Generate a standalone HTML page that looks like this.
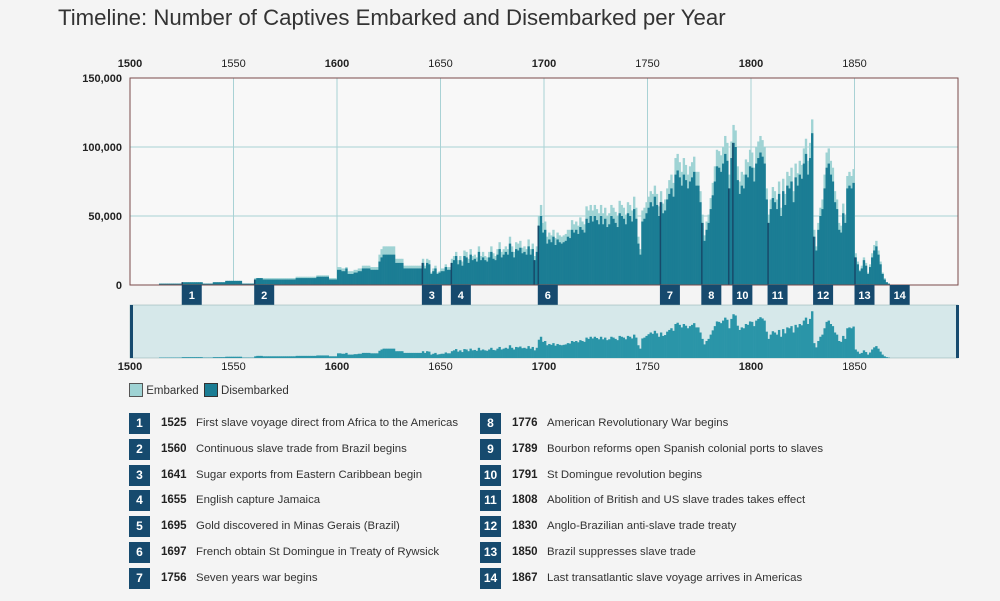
<!DOCTYPE html>
<html><head><meta charset="utf-8">
<style>
body{margin:0;background:#f4f4f4;font-family:"Liberation Sans",sans-serif;width:1000px;height:601px;overflow:hidden;position:relative}
.t{position:absolute;white-space:nowrap}
.box{position:absolute;width:21px;height:21px;background:#164a6e;color:#fff;font-size:12px;font-weight:bold;text-align:center;line-height:21px}
.yr{position:absolute;font-size:11.5px;font-weight:bold;color:#222;line-height:21px}
.ds{position:absolute;font-size:11.4px;color:#333;line-height:21px}
</style></head><body>
<div class="t" style="left:58px;top:5px;font-size:22.2px;color:#333">Timeline: Number of Captives Embarked and Disembarked per Year</div>
<svg id="chart" width="1000" height="380" style="position:absolute;left:0;top:0" font-family="Liberation Sans, sans-serif"></svg>
<div class="t" style="left:129px;top:383px;font-size:11.5px;color:#333">
<span style="display:inline-block;width:12px;height:12px;background:#9fd3d4;border:1px solid #555;vertical-align:-3px"></span> Embarked
<span style="display:inline-block;width:12px;height:12px;background:#1b7d94;border:1px solid #333;vertical-align:-3px;margin-left:2px"></span> Disembarked</div>
<div id="events"></div>
<script>
const years0 = 1514;
const disembarked = [1,1,1,1,1,1,
1,1,1,1,1,2,2,2,2,2, 2,2,2,2,2,1,1,1,1,1, 2,2,2,2,2,2,3,3,3,3, 3,3,3,3,1,1,1,1,1,1,
4,5,5,5,4,4,4,4,4,4, 4,4,4,4,4,4,4,4,4,4, 5,5,5,5,5,5,5,5,5,5, 6,6,6,6,6,6,4,4,4,4,
11,11,10,10,12,8,8,8,9,9, 10,10,12,12,12,12,11,11,11,11, 17,20,22,22,22,22,22,22,16,16, 16,16,12,12,12,12,12,12,12,12,
12,16,12,16,15,8,10,12,8,9, 10,10,13,11,11,16,18,21,15,18, 14,21,20,16,22,18,19,17,24,18, 20,18,17,20,24,19,18,22,26,20,
22,24,22,30,24,20,26,25,27,23, 24,22,28,22,26,18,24,43,50,38, 40,30,33,31,35,29,33,31,30,31, 32,35,34,40,38,40,37,42,40,38,
48,45,50,46,50,47,44,50,44,48, 42,44,50,48,45,42,52,50,48,44, 52,50,46,55,48,30,22,46,48,52, 56,60,57,64,58,50,60,52,54,62,
66,70,64,80,83,78,72,80,76,70, 75,78,82,72,72,60,45,32,40,45, 55,65,75,86,85,82,88,95,90,70, 92,103,100,76,66,72,70,80,78,86,
85,75,88,92,96,93,88,62,45,55, 63,60,55,66,50,68,58,72,70,75, 60,78,72,80,77,88,95,80,92,110, 35,25,40,50,55,70,85,88,80,75,
60,55,40,38,52,45,70,72,70,74, 20,15,10,12,18,14,8,13,20,25, 28,22,15,8,4,2,1];
const embarked = [1,1,1,1,1,1,
1,1,1,1,1,2,2,2,2,2, 2,2,2,2,2,1,1,1,1,1, 2,2,2,2,2,2,3,3,3,3, 3,3,3,3,1,1,1,1,1,1,
5,5,5,5,5,5,5,5,5,5, 5,5,5,5,5,5,5,5,5,5, 6,6,6,6,6,6,6,6,6,6, 7,7,7,7,7,7,5,5,5,5,
13,13,12,12,13,10,10,10,11,11, 12,12,14,14,14,14,13,13,13,13, 22,26,28,28,28,28,28,28,19,19, 19,19,14,14,14,14,14,14,14,14,
14,19,14,19,18,9,12,14,9,10, 12,12,15,13,13,19,21,24,18,21, 17,25,24,19,26,21,22,20,28,21, 24,21,20,24,28,23,21,26,31,24,
26,28,26,35,28,24,31,30,32,27, 28,26,33,26,30,21,28,50,58,45, 46,35,38,36,40,34,38,36,35,36, 37,40,40,47,44,46,43,49,46,44,
57,54,58,54,58,55,52,58,52,56, 50,52,58,56,53,50,61,58,56,51, 60,58,54,64,56,35,26,54,56,60, 64,68,66,72,66,57,68,59,62,70,
76,80,74,92,95,89,82,92,87,80, 86,89,93,82,82,68,51,36,46,51, 63,74,86,98,97,94,100,108,103,80, 104,116,112,86,75,82,80,91,89,98,
96,85,100,104,108,105,100,70,51,62, 71,68,62,75,56,77,66,82,79,85, 68,88,81,90,87,99,106,90,103,120, 40,28,45,56,62,80,96,99,90,85,
68,62,45,43,59,51,79,82,79,84, 23,17,11,14,20,16,9,15,23,29, 32,25,17,9,5,2,1];
const xTicks = [1500,1550,1600,1650,1700,1750,1800,1850];
const yTicks = [0,50,100,150];
const yTickLabels = ["0","50,000","100,000","150,000"];
const eventNums = [1,2,3,4,5,6,7,8,9,10,11,12,13,14];
const eventYears = [1525,1560,1641,1655,1695,1697,1756,1776,1789,1791,1808,1830,1850,1867];
const eventText = ["First slave voyage direct from Africa to the Americas","Continuous slave trade from Brazil begins","Sugar exports from Eastern Caribbean begin","English capture Jamaica","Gold discovered in Minas Gerais (Brazil)","French obtain St Domingue in Treaty of Rywsick","Seven years war begins","American Revolutionary War begins","Bourbon reforms open Spanish colonial ports to slaves","St Domingue revolution begins","Abolition of British and US slave trades takes effect","Anglo-Brazilian anti-slave trade treaty","Brazil suppresses slave trade","Last transatlantic slave voyage arrives in Americas"];
const shownBoxes = [1,2,3,4,6,7,8,10,11,12,13,14];

const X0=130,X1=958,Y0=285,YT=78,OV0=305,OV1=358;
const x = y => X0 + (y-1500)*(X1-X0)/400;
const yv = v => Y0 - v*(Y0-YT)/150;
const yo = v => OV1 - v*(OV1-OV0-2)/120;
const bw = (X1-X0)/400;
const svg=document.getElementById('chart');
const NS='http://www.w3.org/2000/svg';
function mk(t,a,p){const e=document.createElementNS(NS,t);for(const k in a)e.setAttribute(k,a[k]);(p||svg).appendChild(e);return e;}
const bg=mk('rect',{x:X0,y:YT,width:X1-X0,height:Y0-YT,fill:'#f8f8f8'});


xTicks.forEach(t=>{
  const l=mk('line',{x1:x(t),x2:x(t),y1:YT,y2:Y0,stroke:'#a9d2d5','stroke-width':1});
  
  
  const a=mk('text',{x:x(t),y:67,'text-anchor':'middle','font-size':11,'font-weight':t%100==0?'bold':'normal',fill:'#222'});a.textContent=t;
  
  
  const b=mk('text',{x:x(t),y:370,'text-anchor':'middle','font-size':11,'font-weight':t%100==0?'bold':'normal',fill:'#222'});b.textContent=t;
  
  
});
yTicks.forEach((t,i)=>{
  if(t>0&&t<150){const l=mk('line',{x1:X0,x2:X1,y1:yv(t),y2:yv(t),stroke:'#a9d2d5','stroke-width':1});
  
  }
  const a=mk('text',{x:122,y:yv(t)+4,'text-anchor':'end','font-size':11,'font-weight':'bold',fill:'#222'});a.textContent=yTickLabels[i];
  
  
});
embarked.forEach((v,i)=>{
  const r=mk('rect',{x:x(years0+i),y:yv(v),width:bw+0.3,height:Y0-yv(v),fill:'#9fd3d4'});
  
  
});
disembarked.forEach((v,i)=>{
  const r=mk('rect',{x:x(years0+i),y:yv(v),width:bw+0.3,height:Y0-yv(v),fill:'#1b7d94'});
  
  
});
eventYears.forEach((yr,i)=>{
  const idx=yr-years0; const v=idx<disembarked.length?disembarked[idx]:0;
  if(v>0){const l=mk('line',{x1:x(yr)+0.5,x2:x(yr)+0.5,y1:yv(v),y2:Y0,stroke:'#174a6a','stroke-width':1.5});
  
  }
});
const fr=mk('rect',{x:X0,y:YT,width:X1-X0,height:Y0-YT,fill:'none',stroke:'#7a4a4a','stroke-width':1});


eventYears.forEach((yr,i)=>{
  if(!shownBoxes.includes(eventNums[i]))return;
  const g=mk('g',{});
  
  
  mk('rect',{x:x(yr),y:Y0,width:20,height:20,fill:'#164a6e'},g);
  const t=mk('text',{x:x(yr)+10,y:Y0+14,'text-anchor':'middle','font-size':11,'font-weight':'bold',fill:'#fff'},g);t.textContent=eventNums[i];
});
const ov=mk('rect',{x:X0,y:OV0,width:X1-X0,height:OV1-OV0,fill:'#d6e8ea',stroke:'#8aa','stroke-width':0.5});


disembarked.forEach((v,i)=>{
  const r=mk('rect',{x:x(years0+i),y:yo(v),width:bw+0.3,height:OV1-yo(v),fill:'#2a95a8'});
  
  
});
const h1=mk('rect',{x:X0,y:OV0,width:3,height:OV1-OV0,fill:'#164a6e'});


const h2=mk('rect',{x:X1-2,y:OV0,width:3,height:OV1-OV0,fill:'#164a6e'});



const ev=document.getElementById('events');
eventNums.forEach((n,i)=>{
  const col=i<7?0:1, row=i%7;
  const bx=col?480:129, top=413+row*25.8;
  const b=document.createElement('div');b.className='box';b.style.left=bx+'px';b.style.top=top+'px';b.textContent=n;
  
  
  ev.appendChild(b);
  const y=document.createElement('div');y.className='yr';y.style.left=(bx+32)+'px';y.style.top=top+'px';y.textContent=eventYears[i];
  
  
  ev.appendChild(y);
  const d=document.createElement('div');d.className='ds';d.style.left=(bx+67)+'px';d.style.top=top+'px';d.textContent=eventText[i];
  
  
  ev.appendChild(d);
});
</script>
</body></html>
